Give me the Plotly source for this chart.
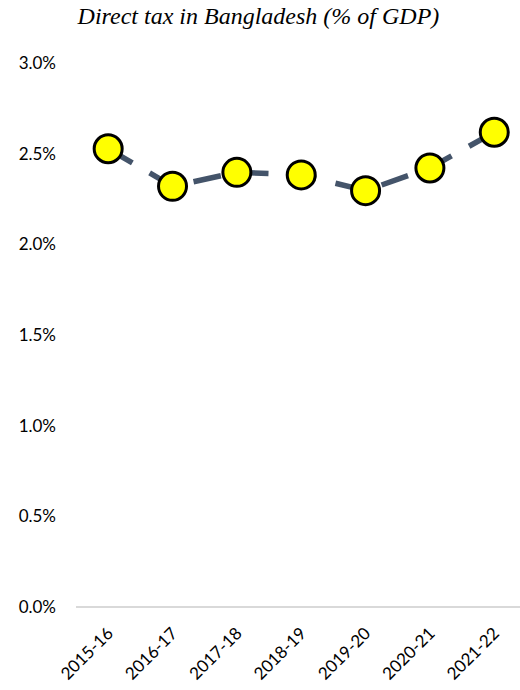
import plotly.graph_objects as go

categories = ["2015-16", "2016-17", "2017-18", "2018-19", "2019-20", "2020-21", "2021-22"]
direct_tax_pct = [2.527, 2.320, 2.397, 2.383, 2.296, 2.421, 2.618]
y_ticks = [0.0, 0.5, 1.0, 1.5, 2.0, 2.5, 3.0]
y_tick_labels = ["0.0%", "0.5%", "1.0%", "1.5%", "2.0%", "2.5%", "3.0%"]

fig = go.Figure()
fig.add_trace(go.Scatter(
    x=list(range(len(categories))),
    y=direct_tax_pct,
    mode="lines+markers",
    line=dict(color="#44546A", width=5.5, dash="28px,20px"),
    marker=dict(size=28, color="#FFFF00", line=dict(color="#000000", width=3)),
    cliponaxis=False,
    showlegend=False,
))

fig.update_layout(
    width=520, height=690,
    margin=dict(l=76, r=0, t=63, b=83, autoexpand=False),
    paper_bgcolor="white", plot_bgcolor="white",
    title=dict(
        text="Direct tax in Bangladesh (% of GDP)",
        font=dict(family="Liberation Serif", size=24, color="#000000", style="italic"),
        x=0.497, xanchor="center", y=0.978, yanchor="middle",
    ),
    xaxis=dict(
        tickmode="array",
        tickvals=list(range(len(categories))),
        ticktext=categories,
        range=[-0.5, 6.4],
        tickangle=-45,
        showgrid=False, zeroline=False,
        showline=False, ticks="",
        automargin=False,
        ticklabelstandoff=12,
        tickfont=dict(family="Lato", size=17, color="#000000"),
    ),
    yaxis=dict(
        range=[0, 3.0],
        tickmode="array",
        tickvals=y_ticks,
        ticktext=y_tick_labels,
        showgrid=False, zeroline=True, zerolinecolor="#D9D9D9", zerolinewidth=1.5,
        showline=False, ticks="",
        automargin=False,
        ticklabelstandoff=19,
        tickfont=dict(family="Lato", size=17, color="#000000"),
    ),
)

fig.write_html("out.html", config={"displayModeBar": False},
               post_script="document.body.style.margin='0';")
